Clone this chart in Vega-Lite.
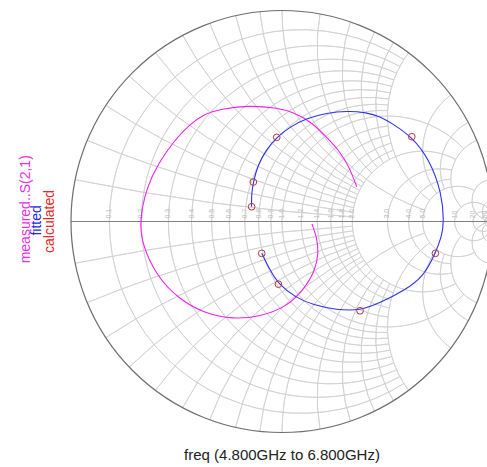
{
  "$schema": "https://vega.github.io/schema/vega-lite/v6.json",
  "width": 487,
  "height": 467,
  "autosize": "none",
  "padding": 0,
  "background": "white",
  "config": {"view": {"stroke": null}, "font": "Liberation Sans"},
  "datasets": {
    "grid": [
      {"cx": 0.0909, "cy": 0, "rad": 0.9091, "t1": -212.39, "t2": 32.39},
      {"cx": 0.1667, "cy": 0, "rad": 0.8333, "t1": -208.07, "t2": 28.07},
      {"cx": 0.2308, "cy": 0, "rad": 0.7692, "t1": -203.96, "t2": 23.96},
      {"cx": 0.2857, "cy": 0, "rad": 0.7143, "t1": -200.02, "t2": 20.02},
      {"cx": 0.3333, "cy": 0, "rad": 0.6667, "t1": -196.26, "t2": 16.26},
      {"cx": 0.375, "cy": 0, "rad": 0.625, "t1": -192.68, "t2": 12.68},
      {"cx": 0.4118, "cy": 0, "rad": 0.5882, "t1": -189.27, "t2": 9.27},
      {"cx": 0.4444, "cy": 0, "rad": 0.5556, "t1": -186.03, "t2": 6.03},
      {"cx": 0.4737, "cy": 0, "rad": 0.5263, "t1": -182.94, "t2": 2.94},
      {"cx": 0.5, "cy": 0, "rad": 0.5, "t1": -226.4, "t2": 46.4},
      {"cx": 0.5455, "cy": 0, "rad": 0.4545, "t1": -174.56, "t2": -5.44},
      {"cx": 0.5833, "cy": 0, "rad": 0.4167, "t1": -169.61, "t2": -10.39},
      {"cx": 0.6154, "cy": 0, "rad": 0.3846, "t1": -165.14, "t2": -14.86},
      {"cx": 0.6429, "cy": 0, "rad": 0.3571, "t1": -161.08, "t2": -18.92},
      {"cx": 0.6667, "cy": 0, "rad": 0.3333, "t1": -208.07, "t2": 28.07},
      {"cx": 0.75, "cy": 0, "rad": 0.25, "t1": -192.68, "t2": 12.68},
      {"cx": 0.8, "cy": 0, "rad": 0.2, "t1": -180, "t2": 0},
      {"cx": 0.8333, "cy": 0, "rad": 0.1667, "t1": -208.07, "t2": 28.07},
      {"cx": 0.9091, "cy": 0, "rad": 0.0909, "t1": -270, "t2": 90},
      {"cx": 0.9524, "cy": 0, "rad": 0.0476, "t1": -224.45, "t2": 44.45},
      {"cx": 0.9804, "cy": 0, "rad": 0.0196, "t1": -270, "t2": 90},
      {"cx": 1, "cy": 10, "rad": 10, "t1": 191.42, "t2": 183.82},
      {"cx": 1, "cy": 5, "rad": 5, "t1": 202.62, "t2": 187.63},
      {"cx": 1, "cy": 3.3333, "rad": 3.3333, "t1": 213.4, "t2": 191.42},
      {"cx": 1, "cy": 2.5, "rad": 2.5, "t1": 223.6, "t2": 195.19},
      {"cx": 1, "cy": 2, "rad": 2, "t1": 233.13, "t2": 198.92},
      {"cx": 1, "cy": 1.6667, "rad": 1.6667, "t1": 241.93, "t2": 202.62},
      {"cx": 1, "cy": 1.4286, "rad": 1.4286, "t1": 249.98, "t2": 206.27},
      {"cx": 1, "cy": 1.25, "rad": 1.25, "t1": 257.32, "t2": 209.86},
      {"cx": 1, "cy": 1.1111, "rad": 1.1111, "t1": 263.97, "t2": 213.4},
      {"cx": 1, "cy": 1, "rad": 1, "t1": 270, "t2": 198.92},
      {"cx": 1, "cy": 0.8333, "rad": 0.8333, "t1": 280.39, "t2": 223.6},
      {"cx": 1, "cy": 0.7143, "rad": 0.7143, "t1": 288.92, "t2": 230.03},
      {"cx": 1, "cy": 0.625, "rad": 0.625, "t1": 296.0, "t2": 236.14},
      {"cx": 1, "cy": 0.5556, "rad": 0.5556, "t1": 301.89, "t2": 241.93},
      {"cx": 1, "cy": 0.5, "rad": 0.5, "t1": 306.87, "t2": 216.87},
      {"cx": 1, "cy": 0.3333, "rad": 0.3333, "t1": 323.13, "t2": 233.13},
      {"cx": 1, "cy": 0.25, "rad": 0.25, "t1": 331.93, "t2": 247.38},
      {"cx": 1, "cy": 0.2, "rad": 0.2, "t1": 337.38, "t2": 228.89},
      {"cx": 1, "cy": 0.1, "rad": 0.1, "t1": 348.58, "t2": 180},
      {"cx": 1, "cy": 0.05, "rad": 0.05, "t1": 354.28, "t2": 222.82},
      {"cx": 1, "cy": 0.02, "rad": 0.02, "t1": 357.71, "t2": 180},
      {"cx": 1, "cy": -10, "rad": 10, "t1": -11.42, "t2": -3.82},
      {"cx": 1, "cy": -5, "rad": 5, "t1": -22.62, "t2": -7.63},
      {"cx": 1, "cy": -3.3333, "rad": 3.3333, "t1": -33.4, "t2": -11.42},
      {"cx": 1, "cy": -2.5, "rad": 2.5, "t1": -43.6, "t2": -15.19},
      {"cx": 1, "cy": -2, "rad": 2, "t1": -53.13, "t2": -18.92},
      {"cx": 1, "cy": -1.6667, "rad": 1.6667, "t1": -61.93, "t2": -22.62},
      {"cx": 1, "cy": -1.4286, "rad": 1.4286, "t1": -69.98, "t2": -26.27},
      {"cx": 1, "cy": -1.25, "rad": 1.25, "t1": -77.32, "t2": -29.86},
      {"cx": 1, "cy": -1.1111, "rad": 1.1111, "t1": -83.97, "t2": -33.4},
      {"cx": 1, "cy": -1, "rad": 1, "t1": -90, "t2": -18.92},
      {"cx": 1, "cy": -0.8333, "rad": 0.8333, "t1": -100.39, "t2": -43.6},
      {"cx": 1, "cy": -0.7143, "rad": 0.7143, "t1": -108.92, "t2": -50.03},
      {"cx": 1, "cy": -0.625, "rad": 0.625, "t1": -116.0, "t2": -56.14},
      {"cx": 1, "cy": -0.5556, "rad": 0.5556, "t1": -121.89, "t2": -61.93},
      {"cx": 1, "cy": -0.5, "rad": 0.5, "t1": -126.87, "t2": -36.87},
      {"cx": 1, "cy": -0.3333, "rad": 0.3333, "t1": -143.13, "t2": -53.13},
      {"cx": 1, "cy": -0.25, "rad": 0.25, "t1": -151.93, "t2": -67.38},
      {"cx": 1, "cy": -0.2, "rad": 0.2, "t1": -157.38, "t2": -48.89},
      {"cx": 1, "cy": -0.1, "rad": 0.1, "t1": -168.58, "t2": 0},
      {"cx": 1, "cy": -0.05, "rad": 0.05, "t1": -174.28, "t2": -42.82},
      {"cx": 1, "cy": -0.02, "rad": 0.02, "t1": -177.71, "t2": 0}
    ],
    "outer": [{"cx": 0, "cy": 0, "rad": 1, "t1": 0, "t2": 360}],
    "axisline": [{"gx": -1, "gx2": 1, "gy": 0}],
    "rlabels": [
      {"lab": "0.1", "gx": -0.8182, "gy": 0}, {"lab": "0.2", "gx": -0.6667, "gy": 0},
      {"lab": "0.3", "gx": -0.5385, "gy": 0}, {"lab": "0.4", "gx": -0.4286, "gy": 0},
      {"lab": "0.5", "gx": -0.3333, "gy": 0}, {"lab": "0.6", "gx": -0.25, "gy": 0},
      {"lab": "0.7", "gx": -0.1765, "gy": 0}, {"lab": "0.8", "gx": -0.1111, "gy": 0},
      {"lab": "0.9", "gx": -0.0526, "gy": 0}, {"lab": "1.0", "gx": 0, "gy": 0},
      {"lab": "1.2", "gx": 0.0909, "gy": 0}, {"lab": "1.4", "gx": 0.1667, "gy": 0},
      {"lab": "1.6", "gx": 0.2308, "gy": 0}, {"lab": "1.8", "gx": 0.2857, "gy": 0},
      {"lab": "2.0", "gx": 0.3333, "gy": 0}, {"lab": "3.0", "gx": 0.5, "gy": 0},
      {"lab": "4.0", "gx": 0.6, "gy": 0}, {"lab": "5.0", "gx": 0.6667, "gy": 0},
      {"lab": "10", "gx": 0.8182, "gy": 0}, {"lab": "20", "gx": 0.9048, "gy": 0},
      {"lab": "50", "gx": 0.9608, "gy": 0}
    ],
    "measured": [
      {"i": 1, "gx": 0.354, "gy": 0.165}, {"i": 2, "gx": 0.322, "gy": 0.252},
      {"i": 3, "gx": 0.275, "gy": 0.331}, {"i": 4, "gx": 0.212, "gy": 0.4},
      {"i": 5, "gx": 0.133, "gy": 0.476}, {"i": 6, "gx": 0.054, "gy": 0.517},
      {"i": 7, "gx": -0.025, "gy": 0.54}, {"i": 8, "gx": -0.167, "gy": 0.55},
      {"i": 9, "gx": -0.289, "gy": 0.533}, {"i": 10, "gx": -0.37, "gy": 0.509},
      {"i": 11, "gx": -0.441, "gy": 0.457}, {"i": 12, "gx": -0.512, "gy": 0.382},
      {"i": 13, "gx": -0.586, "gy": 0.276}, {"i": 14, "gx": -0.641, "gy": 0.165},
      {"i": 15, "gx": -0.675, "gy": 0.007}, {"i": 16, "gx": -0.665, "gy": -0.103},
      {"i": 17, "gx": -0.594, "gy": -0.262}, {"i": 18, "gx": -0.483, "gy": -0.372},
      {"i": 19, "gx": -0.37, "gy": -0.434}, {"i": 20, "gx": -0.231, "gy": -0.464},
      {"i": 21, "gx": -0.104, "gy": -0.451}, {"i": 22, "gx": 0.022, "gy": -0.404},
      {"i": 23, "gx": 0.101, "gy": -0.325}, {"i": 24, "gx": 0.156, "gy": -0.238},
      {"i": 25, "gx": 0.175, "gy": -0.147}, {"i": 26, "gx": 0.164, "gy": -0.072},
      {"i": 27, "gx": 0.142, "gy": -0.012}
    ],
    "fitted": [
      {"i": 1, "gx": -0.144, "gy": 0.07}, {"i": 2, "gx": -0.145, "gy": 0.126},
      {"i": 3, "gx": -0.136, "gy": 0.187}, {"i": 4, "gx": -0.114, "gy": 0.268},
      {"i": 5, "gx": -0.076, "gy": 0.339}, {"i": 6, "gx": -0.025, "gy": 0.399},
      {"i": 7, "gx": 0.038, "gy": 0.449}, {"i": 8, "gx": 0.117, "gy": 0.489},
      {"i": 9, "gx": 0.212, "gy": 0.514}, {"i": 10, "gx": 0.307, "gy": 0.524},
      {"i": 11, "gx": 0.401, "gy": 0.517}, {"i": 12, "gx": 0.464, "gy": 0.498},
      {"i": 13, "gx": 0.526, "gy": 0.462}, {"i": 14, "gx": 0.615, "gy": 0.402},
      {"i": 15, "gx": 0.701, "gy": 0.291}, {"i": 16, "gx": 0.757, "gy": 0.134},
      {"i": 17, "gx": 0.768, "gy": -0.001}, {"i": 18, "gx": 0.757, "gy": -0.072},
      {"i": 19, "gx": 0.727, "gy": -0.151}, {"i": 20, "gx": 0.67, "gy": -0.262},
      {"i": 21, "gx": 0.583, "gy": -0.325}, {"i": 22, "gx": 0.464, "gy": -0.386},
      {"i": 23, "gx": 0.37, "gy": -0.423}, {"i": 24, "gx": 0.259, "gy": -0.419},
      {"i": 25, "gx": 0.148, "gy": -0.396}, {"i": 26, "gx": 0.062, "gy": -0.359},
      {"i": 27, "gx": -0.017, "gy": -0.297}, {"i": 28, "gx": -0.057, "gy": -0.23},
      {"i": 29, "gx": -0.096, "gy": -0.151}
    ],
    "calculated": [
      {"gx": -0.144, "gy": 0.07}, {"gx": -0.136, "gy": 0.187},
      {"gx": -0.025, "gy": 0.399}, {"gx": 0.615, "gy": 0.402},
      {"gx": 0.727, "gy": -0.151}, {"gx": 0.37, "gy": -0.423},
      {"gx": -0.017, "gy": -0.297}, {"gx": -0.096, "gy": -0.151}
    ],
    "legend": [
      {"t": "measured..S(2,1)", "s": "measured", "gx": -1.2156, "gy": 0.058},
      {"t": "fitted", "s": "fitted", "gx": -1.1611, "gy": 0.005},
      {"t": "calculated", "s": "calculated", "gx": -1.0972, "gy": 0.0}
    ],
    "footer": [{"t": "freq (4.800GHz to 6.800GHz)", "gx": 0, "gy": -1.107}]
  },
  "layer": [
    {
      "data": {"name": "grid"},
      "mark": {"type": "arc", "stroke": "#d0d0d0", "strokeWidth": 0.8, "fillOpacity": 0},
      "encoding": {
        "x": {"field": "cx", "type": "quantitative", "scale": {"domain": [-1.3365, 0.9716]}, "axis": null},
        "y": {"field": "cy", "type": "quantitative", "scale": {"domain": [-1.1635, 1.0498]}, "axis": null},
        "theta": {"field": "t1", "type": "quantitative", "stack": null, "scale": {"type": "linear", "domain": [0, 360], "range": [0, 6.283185307179586]}},
        "theta2": {"field": "t2"},
        "radius": {"field": "rad", "type": "quantitative", "scale": {"type": "linear", "domain": [0, 1], "range": [0, 211]}},
        "radius2": {"field": "rad"}
      }
    },
    {
      "data": {"name": "rlabels"},
      "mark": {"type": "text", "angle": 270, "align": "left", "baseline": "middle", "dx": 3, "fontSize": 7, "color": "#bbbbbb"},
      "encoding": {
        "x": {"field": "gx", "type": "quantitative", "scale": {"domain": [-1.3365, 0.9716]}, "axis": null},
        "y": {"field": "gy", "type": "quantitative", "scale": {"domain": [-1.1635, 1.0498]}, "axis": null},
        "text": {"field": "lab"}
      }
    },
    {
      "data": {"name": "axisline"},
      "mark": {"type": "rule", "color": "#808080", "strokeWidth": 1.2},
      "encoding": {
        "x": {"field": "gx", "type": "quantitative", "scale": {"domain": [-1.3365, 0.9716]}, "axis": null},
        "x2": {"field": "gx2"},
        "y": {"field": "gy", "type": "quantitative", "scale": {"domain": [-1.1635, 1.0498]}, "axis": null}
      }
    },
    {
      "data": {"name": "outer"},
      "mark": {"type": "arc", "stroke": "#6e6e6e", "strokeWidth": 1.2, "fillOpacity": 0},
      "encoding": {
        "x": {"field": "cx", "type": "quantitative", "scale": {"domain": [-1.3365, 0.9716]}, "axis": null},
        "y": {"field": "cy", "type": "quantitative", "scale": {"domain": [-1.1635, 1.0498]}, "axis": null},
        "theta": {"field": "t1", "type": "quantitative", "stack": null, "scale": {"type": "linear", "domain": [0, 360], "range": [0, 6.283185307179586]}},
        "theta2": {"field": "t2"},
        "radius": {"field": "rad", "type": "quantitative", "scale": {"type": "linear", "domain": [0, 1], "range": [0, 211]}},
        "radius2": {"field": "rad"}
      }
    },
    {
      "data": {"name": "measured"},
      "mark": {"type": "line", "interpolate": "basis", "color": "#f020f0", "strokeWidth": 1.1},
      "encoding": {
        "x": {"field": "gx", "type": "quantitative", "scale": {"domain": [-1.3365, 0.9716]}, "axis": null},
        "y": {"field": "gy", "type": "quantitative", "scale": {"domain": [-1.1635, 1.0498]}, "axis": null},
        "order": {"field": "i", "type": "quantitative"}
      }
    },
    {
      "data": {"name": "fitted"},
      "mark": {"type": "line", "interpolate": "basis", "color": "#3030f0", "strokeWidth": 1.1},
      "encoding": {
        "x": {"field": "gx", "type": "quantitative", "scale": {"domain": [-1.3365, 0.9716]}, "axis": null},
        "y": {"field": "gy", "type": "quantitative", "scale": {"domain": [-1.1635, 1.0498]}, "axis": null},
        "order": {"field": "i", "type": "quantitative"}
      }
    },
    {
      "data": {"name": "calculated"},
      "mark": {"type": "point", "shape": "circle", "filled": false, "size": 45, "stroke": "#b03838", "strokeWidth": 1, "opacity": 1},
      "encoding": {
        "x": {"field": "gx", "type": "quantitative", "scale": {"domain": [-1.3365, 0.9716]}, "axis": null},
        "y": {"field": "gy", "type": "quantitative", "scale": {"domain": [-1.1635, 1.0498]}, "axis": null}
      }
    },
    {
      "data": {"name": "legend"},
      "mark": {"type": "text", "angle": 270, "align": "center", "baseline": "middle", "fontSize": 14},
      "encoding": {
        "x": {"field": "gx", "type": "quantitative", "scale": {"domain": [-1.3365, 0.9716]}, "axis": null},
        "y": {"field": "gy", "type": "quantitative", "scale": {"domain": [-1.1635, 1.0498]}, "axis": null},
        "text": {"field": "t"},
        "color": {"field": "s", "type": "nominal", "scale": {"domain": ["measured", "fitted", "calculated"], "range": ["#e830e8", "#2828e8", "#e82828"]}, "legend": null}
      }
    },
    {
      "data": {"name": "footer"},
      "mark": {"type": "text", "align": "center", "baseline": "middle", "fontSize": 15, "color": "#222222"},
      "encoding": {
        "x": {"field": "gx", "type": "quantitative", "scale": {"domain": [-1.3365, 0.9716]}, "axis": null},
        "y": {"field": "gy", "type": "quantitative", "scale": {"domain": [-1.1635, 1.0498]}, "axis": null},
        "text": {"field": "t"}
      }
    }
  ]
}
